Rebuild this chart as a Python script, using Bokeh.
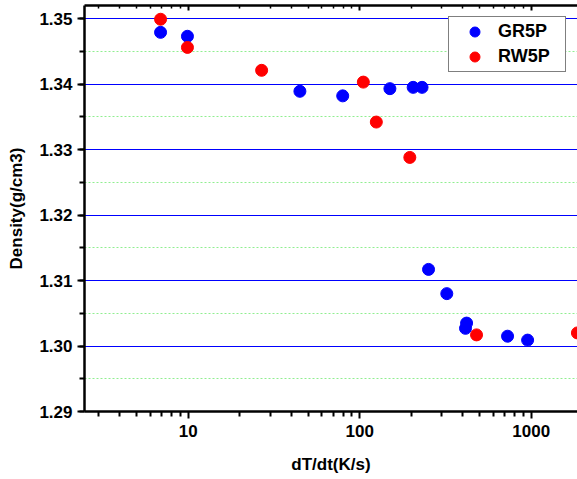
from bokeh.plotting import figure
from bokeh.models import (FixedTicker, SingleIntervalTicker, LogAxis, Range1d,
                          PrintfTickFormatter)
from bokeh.embed import file_html
from bokeh.resources import INLINE

# Data
gr5p_x = [6.9, 9.9, 44.8, 79.6, 150, 205, 231, 252, 322, 420, 414, 728, 953]
gr5p_y = [1.3479, 1.3473, 1.3389, 1.3382, 1.3393, 1.3395, 1.3395,
          1.3117, 1.3080, 1.3035, 1.3027, 1.3015, 1.3009]
rw5p_x = [6.9, 9.9, 26.8, 105, 125, 196, 480, 1860]
rw5p_y = [1.3499, 1.3456, 1.3421, 1.3403, 1.3342, 1.3288, 1.3017, 1.3020]

x_major = [10, 100, 1000]
x_minor = [3, 4, 5, 6, 7, 8, 9, 20, 30, 40, 50, 60, 70, 80, 90,
           200, 300, 400, 500, 600, 700, 800, 900]
x_labels = {10: "10", 100: "100", 1000: "1000"}

FONT = "Liberation Sans"

p = figure(width=577, height=479, x_axis_type="log",
           x_range=Range1d(2.485, 1862), y_range=Range1d(1.29, 1.352),
           output_backend="svg", toolbar_location=None,
           min_border_left=84, min_border_right=0, min_border_top=5,
           min_border_bottom=68)
p.outline_line_color = None
p.background_fill_color = "white"
p.border_fill_color = "white"

p.scatter(gr5p_x, gr5p_y, size=12, color="#0000FF", legend_label="GR5P")
p.scatter(rw5p_x, rw5p_y, size=12, color="#FF0000", legend_label="RW5P")

# x axis
xa = p.xaxis[0]
xa.ticker = FixedTicker(ticks=x_major, minor_ticks=x_minor)
xa.major_label_overrides = x_labels
xa.axis_label = "dT/dt(K/s)"
# y axis
ya = p.yaxis[0]
ya.ticker = SingleIntervalTicker(interval=0.01, num_minor_ticks=2)
ya.formatter = PrintfTickFormatter(format="%.2f")
ya.axis_label = "Density(g/cm3)"

for ax in (xa, ya):
    ax.axis_line_width = 2.5
    ax.axis_line_color = "black"
    ax.major_tick_line_width = 2
    ax.minor_tick_line_width = 2
    ax.major_tick_out = 7
    ax.major_tick_in = 0
    ax.minor_tick_out = 5
    ax.minor_tick_in = 0
    ax.major_label_text_font = FONT
    ax.major_label_text_font_style = "bold"
    ax.major_label_text_font_size = "17px"
    ax.major_label_text_color = "black"
    ax.axis_label_text_font = FONT
    ax.axis_label_text_font_style = "bold"
    ax.axis_label_text_font_size = "17px"
    ax.axis_label_text_color = "black"
xa.major_label_standoff = 6
xa.axis_label_standoff = 15
ya.major_label_standoff = 5
ya.axis_label_standoff = 10

# top axis (frame line with inner ticks)
top = LogAxis(ticker=FixedTicker(ticks=x_major, minor_ticks=x_minor),
              major_label_text_font_size="1px", major_label_text_alpha=0,
              major_label_standoff=0,
              axis_line_width=2.5, major_tick_in=5, major_tick_out=0,
              minor_tick_in=3, minor_tick_out=0, major_tick_line_width=2,
              minor_tick_line_width=1.5)
p.add_layout(top, "above")

# grids
p.xgrid.grid_line_color = None
p.ygrid.grid_line_color = "#0000FF"
p.ygrid.grid_line_width = 1
p.ygrid.minor_grid_line_color = "#90EE90"
p.ygrid.minor_grid_line_dash = "2 2"
p.ygrid.minor_grid_line_width = 1

# legend
lg = p.legend[0]
lg.location = "top_right"
lg.margin = 11
lg.padding = 2
lg.spacing = 0
lg.glyph_width = 47
lg.glyph_height = 25
lg.label_standoff = 0
lg.label_width = 65
lg.label_text_font = FONT
lg.label_text_font_style = "bold"
lg.label_text_font_size = "18px"
lg.label_text_color = "black"
lg.border_line_color = "black"
lg.border_line_width = 1
lg.background_fill_color = "white"
lg.background_fill_alpha = 1

open("out.html", "w").write(file_html(p, INLINE))
